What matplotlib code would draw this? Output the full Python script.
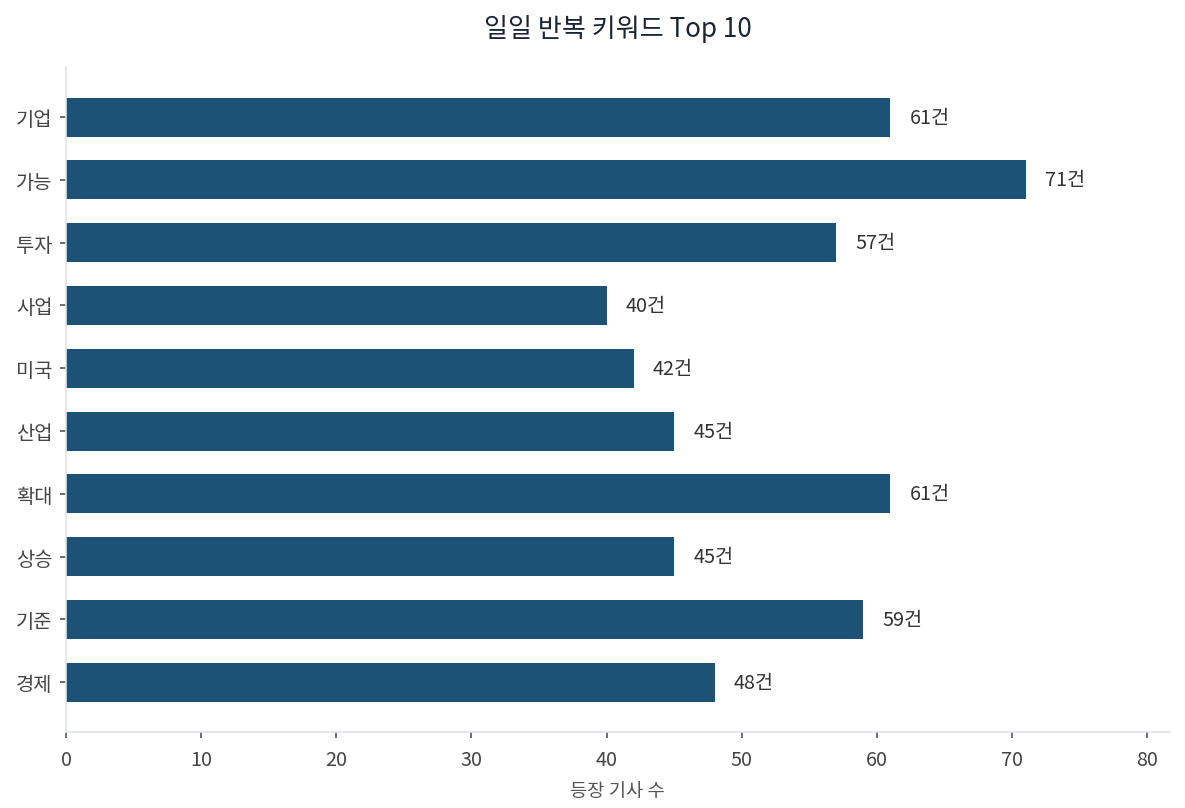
import matplotlib
matplotlib.use("Agg")
import matplotlib.pyplot as plt

plt.rcParams['font.family'] = ['Noto Sans CJK KR', 'DejaVu Sans']

keywords = ["기업", "가능", "투자", "사업", "미국", "산업", "확대", "상승", "기준", "경제"]
counts = [61, 71, 57, 40, 42, 45, 61, 45, 59, 48]
xticks = [0, 10, 20, 30, 40, 50, 60, 70, 80]

bar_color = "#1b5276"
spine_color = "#dfe3e8"
tick_color = "#555555"

fig = plt.figure(figsize=(7.9, 5.3933), dpi=150)
ax = fig.add_axes([0.0557, 0.094, 0.9313, 0.8215])

ypos = list(range(len(keywords)))
ax.barh(ypos, counts, height=0.62, color=bar_color)
ax.set_yticks(ypos)
ax.set_yticklabels(keywords)
ax.invert_yaxis()
ax.set_xlim(0, max(counts) * 1.15)
ax.set_xticks(xticks)

for y, v in zip(ypos, counts):
    ax.text(v + 1.4, y, f"{v}건", va="center", ha="left", fontsize=9.5, color="#333333")

for s in ["top", "right"]:
    ax.spines[s].set_visible(False)
for s in ["left", "bottom"]:
    ax.spines[s].set_color(spine_color)
    ax.spines[s].set_linewidth(0.8)

ax.tick_params(axis="both", colors=tick_color, labelsize=9.5, length=3, width=0.8)
ax.tick_params(axis="both", labelcolor="#444444")
ax.tick_params(axis="x", pad=5)
ax.set_xlabel("등장 기사 수", fontsize=9, color="#555555", labelpad=5)
ax.set_title("일일 반복 키워드 Top 10", fontsize=12.5, color="#1a2433", pad=15)

fig.savefig("out.png", dpi=150)
